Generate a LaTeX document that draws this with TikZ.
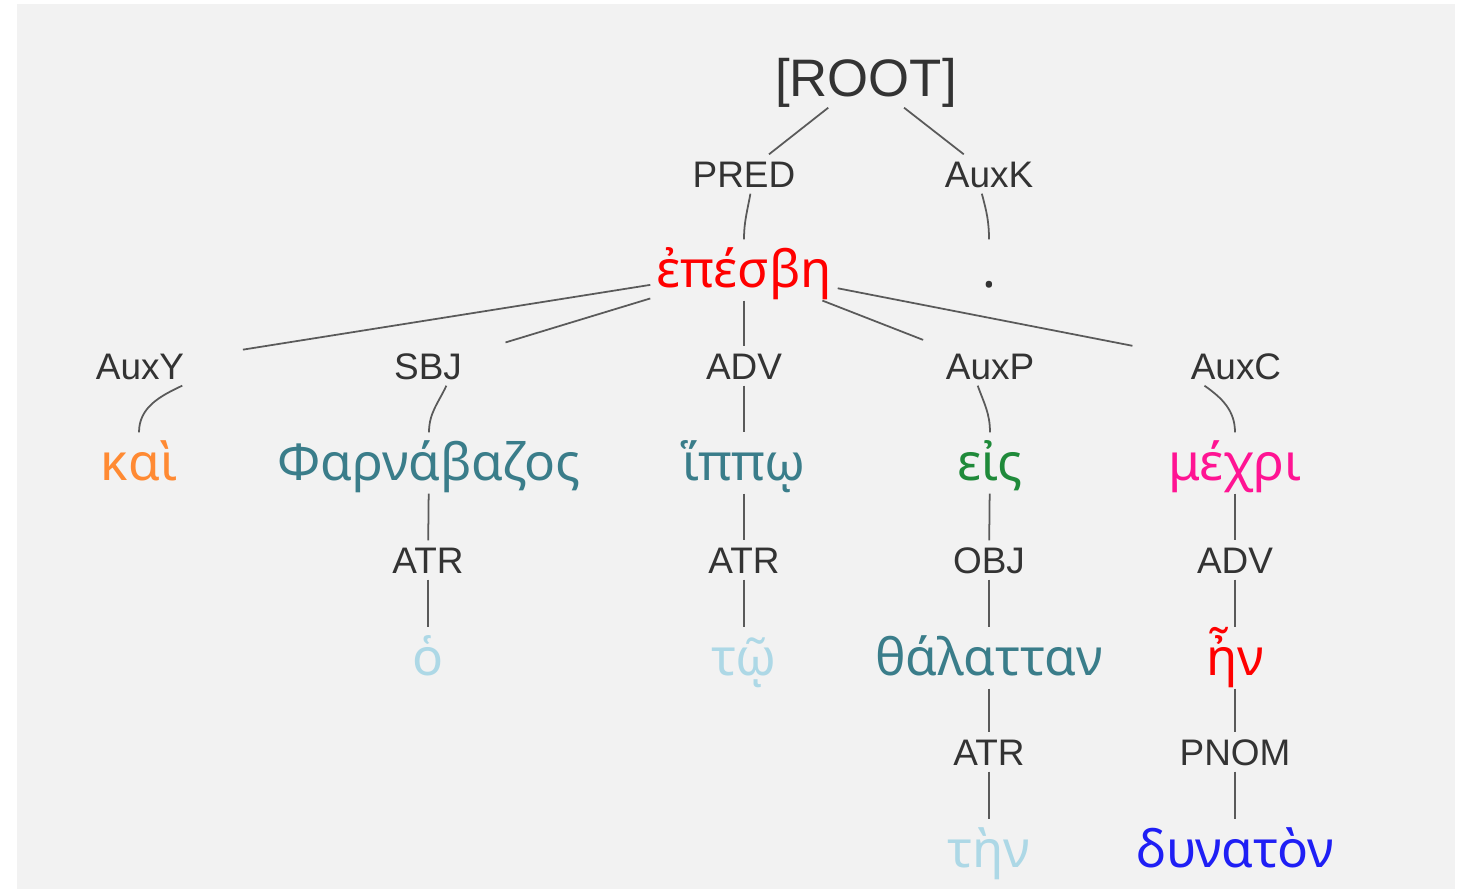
\documentclass[tikz,border=0pt]{standalone}
\usepackage{fontspec}
\setmainfont{Liberation Sans}
\newfontfamily\grk{Noto Sans}
\usepackage{xcolor}
\definecolor{bgray}{HTML}{F2F2F2}
\definecolor{lblcol}{HTML}{333333}
\definecolor{edgecol}{HTML}{5A5A5A}
\definecolor{wred}{HTML}{FF0000}
\definecolor{worange}{HTML}{FF8A33}
\definecolor{wteal}{HTML}{3A7D8A}
\definecolor{wgreen}{HTML}{1F8A3A}
\definecolor{wpink}{HTML}{FF1493}
\definecolor{wlight}{HTML}{ADD8E6}
\definecolor{wblue}{HTML}{1F1FF5}

\begin{document}
\begin{tikzpicture}[x=0.01cm,y=0.01cm,
    word/.style={font=\grk\fontsize{14.6}{18}\selectfont, inner xsep=1.5pt, inner ysep=1pt, text height=12.6pt, text depth=2.4pt},
    rel/.style={font=\fontsize{10.5}{12}\selectfont, text=lblcol, inner xsep=1.7pt, inner ysep=1.7pt, text height=7.4pt, text depth=0pt},
    edge/.style={draw=edgecol, line width=0.5pt}]
    \useasboundingbox (0,0) rectangle (1460,-891);
    \fill[bgray] (17,-4) rectangle (1455,-889);
    % root and first level
    \node[rel, font=\fontsize{15}{18}\selectfont, text height=10.8pt, inner ysep=2.85pt] (root) at (866,-78) {[ROOT]};
    \node[rel] (pred) at (744,-174) {PRED};
    \node[rel] (auxk) at (989,-174) {AuxK};
    \node[word, text=wred] (pesbe) at (744,-270) {ἐπέσβη};
    \node[word, text=lblcol] (dot) at (989,-270) {.};
    % second level
    \node[rel] (auxy) at (140,-366) {AuxY};
    \node[rel] (sbj) at (428,-366) {SBJ};
    \node[rel] (adv) at (744,-366) {ADV};
    \node[rel] (auxp) at (990,-366) {AuxP};
    \node[rel] (auxc) at (1236,-366) {AuxC};
    \node[word, text=worange] (kai) at (139,-463) {καὶ};
    \node[word, text=wteal] (pharn) at (429,-463) {Φαρνάβαζος};
    \node[word, text=wteal] (hippo) at (744,-463) {ἵππῳ};
    \node[word, text=wgreen] (eis) at (990,-463) {εἰς};
    \node[word, text=wpink] (mechri) at (1235,-463) {μέχρι};
    % third level
    \node[rel] (atra) at (428,-560) {ATR};
    \node[rel] (atrb) at (744,-560) {ATR};
    \node[rel] (obj) at (989,-560) {OBJ};
    \node[rel] (advb) at (1235,-560) {ADV};
    \node[word, text=wlight] (ho) at (428,-658) {ὁ};
    \node[word, text=wlight] (to) at (744,-658) {τῷ};
    \node[word, text=wteal] (thal) at (989,-658) {θάλατταν};
    \node[word, text=wred] (en) at (1235,-658) {ἦν};
    % fourth level
    \node[rel] (atrc) at (989,-752) {ATR};
    \node[rel] (pnom) at (1235,-752) {PNOM};
    \node[word, text=wlight] (ten) at (989,-850) {τὴν};
    \node[word, text=wblue] (dyn) at (1235,-850) {δυνατὸν};
    % edges
    \draw[edge] (root) -- (pred);
    \draw[edge] (pred.-72) to[out=-100,in=90] (pesbe);
    \draw[edge] (root) -- (auxk);
    \draw[edge] (auxk.-110) to[out=-75,in=90] (dot);
    \draw[edge, shorten >=15pt] (pesbe) -- (auxy);
    \draw[edge] (auxy.-25) to[out=-155,in=90] (kai);
    \draw[edge, shorten >=11pt] (pesbe) -- (sbj);
    \draw[edge] (sbj.-47) to[out=-115,in=90] (pharn);
    \draw[edge] (pesbe) -- (adv);
    \draw[edge] (adv) -- (hippo);
    \draw[edge, shorten >=5pt] (pesbe) -- (auxp);
    \draw[edge] (auxp.-122) to[out=-70,in=90] (eis);
    \draw[edge, shorten >=15pt] (pesbe) -- (auxc);
    \draw[edge] (auxc.-148) to[out=-35,in=90] (mechri);
    \foreach \a/\b in {pharn/atra, atra/ho, hippo/atrb, atrb/to, eis/obj, obj/thal,
        thal/atrc, atrc/ten, mechri/advb, advb/en, en/pnom, pnom/dyn}
        \draw[edge] (\a) -- (\b);
\end{tikzpicture}
\end{document}
